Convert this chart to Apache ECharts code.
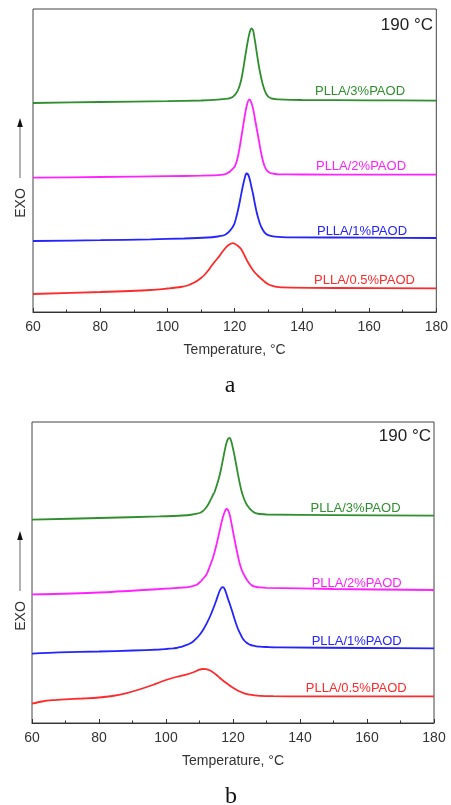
<!DOCTYPE html>
<html><head><meta charset="utf-8">
<script src="https://cdn.jsdelivr.net/npm/echarts@6/dist/echarts.min.js"></script>
<style>html,body{margin:0;padding:0;background:#fff}#c{width:451px;height:805px}</style>
</head><body><div id="c"></div>
<script>
// x axis ticks (°C)
const xTicks = [60, 80, 100, 120, 140, 160, 180];
const seriesNames = ['PLLA/3%PAOD', 'PLLA/2%PAOD', 'PLLA/1%PAOD', 'PLLA/0.5%PAOD'];
const tempTag = '190 °C';

// ---- panel a ---- (temperature °C, exo heat flow in arbitrary units)
const aT3 = [60,80,100,110,115,118,118.5,119,119.5,120,120.5,121,121.5,122,122.5,123,123.5,124,124.5,125,125.5,126,126.5,127,127.5,128,128.5,129,129.5,130,130.5,131,132,133,140,160,180];
const aY3 = [209,210,210.8,211.5,212.3,213.3,213.8,214.4,215.3,216.8,219,222,226.5,233,242,252.5,263,272.5,280,283.7,281.5,272,261,250,240.5,232.5,226,221,217.5,215.3,214.2,213.5,213,212.6,212,211.7,211.3];
const aT2 = [60,80,100,110,115,117,117.5,118,118.5,119,119.5,120,120.5,121,121.5,122,122.5,123,123.5,124,124.5,125,125.5,126,126.5,127,127.5,128,128.5,129,129.5,130,130.5,131,132,133,140,160,180];
const aY2 = [134.3,135,135.8,136.3,136.8,137.6,138.2,139.2,140.3,141.8,143.3,145.5,149.5,156,165,175,185.5,196,205,211,212.7,209,203,194,184.5,175.5,166,157,150,145,142,140.3,139.3,138.6,138,137.7,137.5,137.3,137.3];
const aT1 = [60,80,95,105,112,115,116,117,117.5,118,118.5,119,119.5,120,120.5,121,121.5,122,122.5,123,123.5,124,124.5,125,125.5,126,126.5,127,127.5,128,128.5,129,129.5,130,131,132,134,137,160,180];
const aY1 = [71,71.8,72.7,73.5,74.5,75.5,76.1,77,78,79.2,80.8,83,85.5,89,95,102,110,118.7,127,134,138.5,137.5,132.5,125,117.5,108.5,100.5,94,88.5,84.5,81.5,79.2,77.8,76.8,75.8,75.3,74.9,74.7,74.3,74];
const aT05 = [60,80,95,100,104,106,108,109,110,111,112,113,114,115,116,117,118,119,119.5,120,121,122,123,124,125,126,127,128,129,130,131,132,134,150,180];
const aY05 = [18,20,22,23.5,25,26.5,29.5,31.5,34,37,41,45.5,50,54,58.5,63,66.5,68.5,68.8,68.3,66,62.5,56,49.5,44,39.5,36,33,30,27.8,26.3,25.4,24.6,24,23.7];

// ---- panel b ----
const bT3 = [60,80,98,105,108,109,110,110.5,111,111.5,112,112.5,113,113.5,114,114.5,115,115.5,116,116.5,117,117.5,118,118.5,119,119.5,120,120.5,121,121.5,122,122.5,123,123.5,124,124.5,125,125.5,126,126.5,127,128,130,150,180];
const bY3 = [203.3,205,206.6,207.5,208.5,209.2,210,210.8,212,213.5,215.5,218,221,224.3,228,231,236,241.5,247.5,255,263.5,272,279.5,284,285.2,281.5,274.5,266.5,257.5,248.3,240,232.5,227,222.5,219,216.5,214.3,212.7,211.3,210.2,209.6,209,208.5,207.8,207.3];
const bT2 = [60,80,98,105,107,108,109,109.5,110,110.5,111,111.5,112,112.5,113,113.5,114,114.5,115,115.5,116,116.5,117,117.5,118,118.5,119,119.5,120,120.5,121,121.5,122,122.5,123,123.5,124,124.5,125,125.5,126,127,128,130,150,180];
const bY2 = [128.6,130.5,134,135.5,136.2,137,138,139,140.5,142,144,146,148,151.5,156,160.5,165,171,177.5,184.5,192,199.5,206,211,214,213,208.5,200.5,191.5,183,174.5,166.5,159.5,154,150,147,144,141.5,139.5,138,136.8,136,135.6,135.2,134,133];
const bT1 = [60,68,80,90,98,100,102,103,104,105,106,107,108,109,110,111,112,113,114,115,115.5,116,116.5,117,117.5,118,118.5,119,119.5,120,120.5,121,121.5,122,122.5,123,123.5,124,124.5,125,126,127,128,130,134,160,180];
const bY1 = [69.3,70.6,71.5,72.5,73.5,74,74.6,75,75.8,76.7,77.8,79.3,81.3,84.3,88,92.8,98.7,105.5,113.5,122.5,127.5,132,135,135.8,134,129.5,124.3,119.5,114.3,109,103.5,98.5,94,90.3,87,84,82,80.5,79.3,78.4,77.3,76.7,76.3,76,75.6,75,74.6];
const bT05 = [60,63,66,70,75,80,84,88,92,96,100,103,106,108,110,111,112,113,114,115,116,117,118,119,120,121,122,123,124,125,126,128,132,140,180];
const bY05 = [19.3,21.5,22.8,23.7,24.5,25.5,27,29.7,33.5,38,43,46,48.3,50.5,53.3,54,53.8,52.7,50.8,48.3,45.3,42.5,40,37.5,35.2,33.2,31.5,30.2,29.1,28.3,27.8,27.2,26.8,26.6,26.6];

const colors = ['#2f8f2f', '#ff22ff', '#2424ff', '#ff2a2a'];
const FONT = "'Liberation Sans', Arial, sans-serif";

function pairs(t, y) { return t.map((v, i) => [v, y[i]]); }
function mkSeries(idx, t, y, ci) {
  return { type: 'line', name: seriesNames[ci], xAxisIndex: idx, yAxisIndex: idx, data: pairs(t, y),
    showSymbol: false, smooth: 0.3, silent: true,
    lineStyle: { color: colors[ci], width: 1.8 } };
}
function mkX(idx) {
  return { gridIndex: idx, type: 'value', min: xTicks[0], max: xTicks[xTicks.length - 1], interval: xTicks[1] - xTicks[0],
    axisLine: { show: true, onZero: false, lineStyle: { color: '#333', width: 1 } },
    axisTick: { show: true, inside: true, length: 4, lineStyle: { color: '#333' } },
    minorTick: { show: true, splitNumber: 2, length: 2.5, lineStyle: { color: '#333' } },
    splitLine: { show: false },
    axisLabel: { color: '#333', fontSize: 14, fontFamily: FONT, margin: 8 },
    name: 'Temperature, °C', nameLocation: 'middle', nameGap: 31,
    nameTextStyle: { color: '#333', fontSize: 14, fontFamily: FONT } };
}
function mkY(idx, max) {
  return { gridIndex: idx, type: 'value', min: 0, max: max, show: false };
}
function txt(x, y, s, color, size, extra) {
  return Object.assign({ type: 'text', x: x, y: y, silent: true,
    style: { text: s, fill: color, font: size + 'px ' + FONT, align: 'center', verticalAlign: 'middle' } }, extra || {});
}
function arrow(y0, y1) {
  return [
    { type: 'line', silent: true, shape: { x1: 20, y1: y1, x2: 20, y2: y0 + 8 }, style: { stroke: '#666', lineWidth: 1 } },
    { type: 'polygon', silent: true, shape: { points: [[20, y0], [17.2, y0 + 9], [22.8, y0 + 9]] }, style: { fill: '#111' } }
  ];
}

const graphics = [
  txt(360, 91, seriesNames[0], colors[0], 13),
  txt(361, 166, seriesNames[1], colors[1], 13),
  txt(362, 231, seriesNames[2], colors[2], 13),
  txt(364.5, 280, seriesNames[3], colors[3], 13),
  txt(433, 25, tempTag, '#222', 17),
  txt(355.5, 508.5, seriesNames[0], colors[0], 13),
  txt(356.7, 583, seriesNames[1], colors[1], 13),
  txt(356.7, 641, seriesNames[2], colors[2], 13),
  txt(356.3, 688.5, seriesNames[3], colors[3], 13),
  txt(431, 436, tempTag, '#222', 17),
  txt(21, 203, 'EXO', '#333', 14, { rotation: Math.PI / 2 }),
  txt(21, 616, 'EXO', '#333', 14, { rotation: Math.PI / 2 }),
  ...arrow(118, 178),
  ...arrow(531, 591),
  { type: 'text', x: 230, y: 386, silent: true, style: { text: 'a', fill: '#111', font: "24px 'Liberation Serif', 'Times New Roman', serif", align: 'center', verticalAlign: 'middle' } },
  { type: 'text', x: 231, y: 797, silent: true, style: { text: 'b', fill: '#111', font: "24px 'Liberation Serif', 'Times New Roman', serif", align: 'center', verticalAlign: 'middle' } }
];
graphics[4].style.align = 'right';
graphics[9].style.align = 'right';

const chart = echarts.init(document.getElementById('c'), null, { renderer: 'canvas' });
chart.setOption({
  animation: false,
  backgroundColor: '#fff',
  grid: [
    { left: 33, top: 9, width: 404, height: 303, show: true, borderColor: '#444', borderWidth: 1, backgroundColor: 'transparent' },
    { left: 32, top: 422, width: 402, height: 301, show: true, borderColor: '#444', borderWidth: 1, backgroundColor: 'transparent' }
  ],
  xAxis: [mkX(0), mkX(1)],
  yAxis: [mkY(0, 303), mkY(1, 301)],
  series: [
    mkSeries(0, aT3, aY3, 0), mkSeries(0, aT2, aY2, 1), mkSeries(0, aT1, aY1, 2), mkSeries(0, aT05, aY05, 3),
    mkSeries(1, bT3, bY3, 0), mkSeries(1, bT2, bY2, 1), mkSeries(1, bT1, bY1, 2), mkSeries(1, bT05, bY05, 3)
  ],
  graphic: graphics
});
</script></body></html>
